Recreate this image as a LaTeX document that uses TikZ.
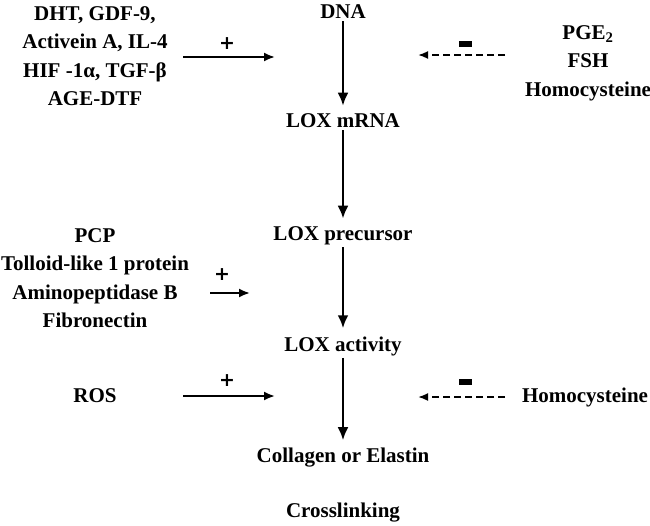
\documentclass[tikz,border=0pt]{standalone}
\usepackage{fontspec}
\setmainfont{Liberation Serif}
\newfontfamily\signfont{DejaVu Sans}
\usetikzlibrary{arrows.meta}

\begin{document}
\begin{tikzpicture}[x=1pt, y=-1pt,
  every node/.style={font=\bfseries\fontsize{21}{28.5}\selectfont, align=center, inner sep=1pt},
  stage/.style={inner sep=2pt},
  arr/.style={-{Latex[length=13pt,width=11pt]}, line width=2.4pt, shorten >=6pt},
  plusarr/.style={-{Latex[length=11pt,width=9pt]}, line width=2pt},
  minusarr/.style={-{Latex[length=10pt,width=8pt]}, line width=1.8pt, dash pattern=on 7pt off 4pt},
  plus/.style={font=\signfont\bfseries\fontsize{19}{19}\selectfont},
  minus/.style={fill, minimum width=13pt, minimum height=6pt, inner sep=0pt}
]
\useasboundingbox (0,0) rectangle (650,525);

% main pathway
\node[stage] (dna) at (343,12) {DNA};
\node[stage] (mrna) at (343,121) {LOX mRNA};
\node[stage] (prec) at (343,236) {LOX precursor};
\node[stage] (act) at (343,346) {LOX activity};
\node[stage] (coll) at (343,458) {Collagen or Elastin};
\node (cross) at (343,513) {Crosslinking};
\draw[arr] (dna) -- (mrna);
\draw[arr] (mrna) -- (prec);
\draw[arr] (prec) -- (act);
\draw[arr] (act) -- (coll);

% DNA -> mRNA regulators
\node (upA) at (95,56) {DHT, GDF-9,\\Activein A, IL-4\\HIF -1α, TGF-β\\AGE-DTF};
\node (downA) at (588,63) {PGE\textsubscript{2}\\FSH\\Homocysteine};
\coordinate (upAs) at (183,57);
\coordinate (upAe) at (275,57);
\coordinate (downAs) at (505,55);
\coordinate (downAe) at (418,55);
\draw[plusarr] (upAs) -- (upAe);
\draw[minusarr] (downAs) -- (downAe);
\node[plus] (pA) at (227,44) {+};
\node[minus] (mA) at (465,44) {};

% precursor -> activity
\node (upB) at (95,278) {PCP\\Tolloid-like 1 protein\\Aminopeptidase B\\Fibronectin};
\coordinate (upBs) at (210,293);
\coordinate (upBe) at (250,293);
\draw[plusarr] (upBs) -- (upBe);
\node[plus] (pB) at (222,275) {+};

% activity -> collagen
\node (ros) at (95,396) {ROS};
\node (hcy) at (585,397) {Homocysteine};
\coordinate (rosS) at (183,396);
\coordinate (rosE) at (275,396);
\coordinate (hcyS) at (505,397);
\coordinate (hcyE) at (418,397);
\draw[plusarr] (rosS) -- (rosE);
\draw[minusarr] (hcyS) -- (hcyE);
\node[plus] (pC) at (227,381) {+};
\node[minus] (mC) at (465,382) {};
\end{tikzpicture}
\end{document}
